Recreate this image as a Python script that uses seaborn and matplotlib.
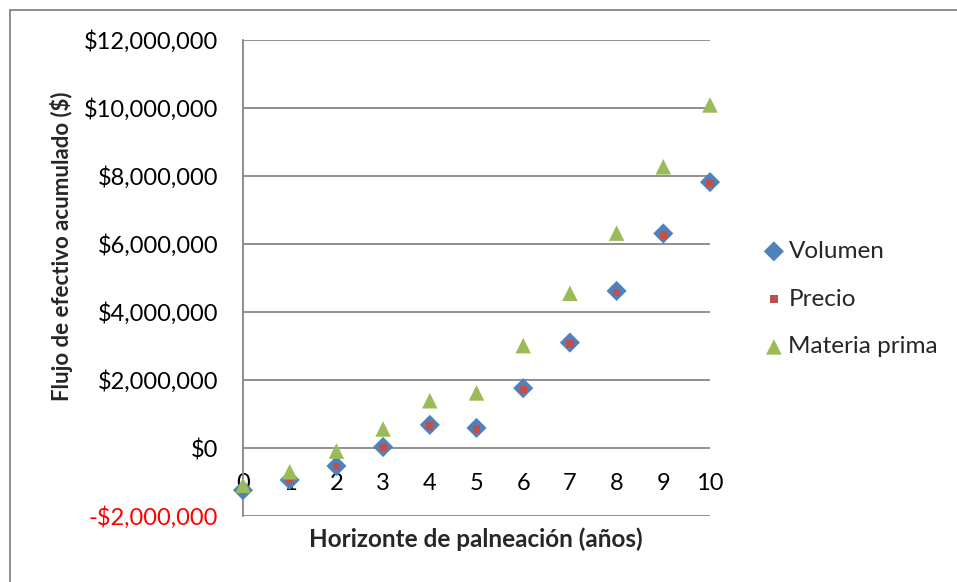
import numpy as np
import pandas as pd
import matplotlib
matplotlib.use("Agg")
import matplotlib.pyplot as plt
import seaborn as sns
from matplotlib.lines import Line2D
from matplotlib.ticker import FuncFormatter

# datos (flujo de efectivo acumulado, $)
anios = [0, 1, 2, 3, 4, 5, 6, 7, 8, 9, 10]
volumen = [-1240000, -940000, -530000, 30000, 680000, 590000, 1760000, 3100000, 4620000, 6310000, 7820000]
precio = [-1250000, -950000, -540000, 10000, 650000, 560000, 1730000, 3060000, 4580000, 6260000, 7780000]
materia_prima = [-1100000, -700000, -90000, 560000, 1390000, 1620000, 3010000, 4550000, 6320000, 8270000, 10090000]
y_ticks = [-2000000, 0, 2000000, 4000000, 6000000, 8000000, 10000000, 12000000]

df = pd.DataFrame({'anio': anios, 'Volumen': volumen, 'Precio': precio,
                   'Materia prima': materia_prima})

sns.set_theme(style='white')
plt.rcParams['font.family'] = ['Lato', 'DejaVu Sans']

fig = plt.figure(figsize=(9.57, 5.82), dpi=100)
ax = fig.add_axes([243/957, 1-516/582, 467/957, 476/582])

# series: marcador, color, tamaño
estilos = {'Volumen': ('D', '#4F81BD', 105),
           'Precio': ('s', '#C0504D', 28),
           'Materia prima': ('^', '#9BBB59', 125)}
for serie, (mk, col, s) in estilos.items():
    sns.scatterplot(data=df, x='anio', y=serie, marker=mk, color=col, s=s,
                    edgecolor='none', label=serie, ax=ax, zorder=3, clip_on=False)

ax.set_xlim(0, 10)
ax.set_ylim(-2000000, 12000000)
ax.set_xticks(anios)
ax.set_yticks(y_ticks)
ax.yaxis.set_major_formatter(FuncFormatter(
    lambda v, p: f"-${abs(v):,.0f}" if v < 0 else f"${v:,.0f}"))

ax.grid(axis='y', color='#878787', linewidth=1.3)
ax.grid(axis='x', visible=False)
for sp in ['top', 'right']:
    ax.spines[sp].set_visible(False)
ax.spines['bottom'].set_position(('data', 0))
ax.spines['bottom'].set_visible(False)
ax.spines['left'].set_color('#878787')
ax.spines['left'].set_linewidth(1.3)
ax.tick_params(axis='x', length=0, pad=18, labelsize=17, colors='black')
ax.tick_params(axis='y', length=0, pad=18, labelsize=17, colors='black')
for lbl in ax.get_yticklabels():
    if lbl.get_text().startswith('-'):
        lbl.set_color('red')

ax.set_xlabel('Horizonte de palneación (años)', fontsize=17.5, fontweight='bold')
ax.set_ylabel('Flujo de efectivo acumulado ($)', fontsize=16, fontweight='bold')
ax.xaxis.set_label_coords(0.499, -0.025)
ax.yaxis.set_label_coords(-0.364, 0.567)

ax.legend(loc='center left', bbox_to_anchor=(752/957, 1-299/582), bbox_transform=fig.transFigure,
          frameon=False, fontsize=17.5, handletextpad=0.1, labelspacing=1.1,
          handlelength=1.0, borderaxespad=0)

# marco del grafico (borde superior e izquierdo)
fig.add_artist(Line2D([10/957, 10/957], [0, 1-10/582], transform=fig.transFigure,
                      color='#868686', linewidth=1.3))
fig.add_artist(Line2D([10/957, 1], [1-10/582, 1-10/582], transform=fig.transFigure,
                      color='#868686', linewidth=1.3))

fig.savefig('out.png', dpi=100)
